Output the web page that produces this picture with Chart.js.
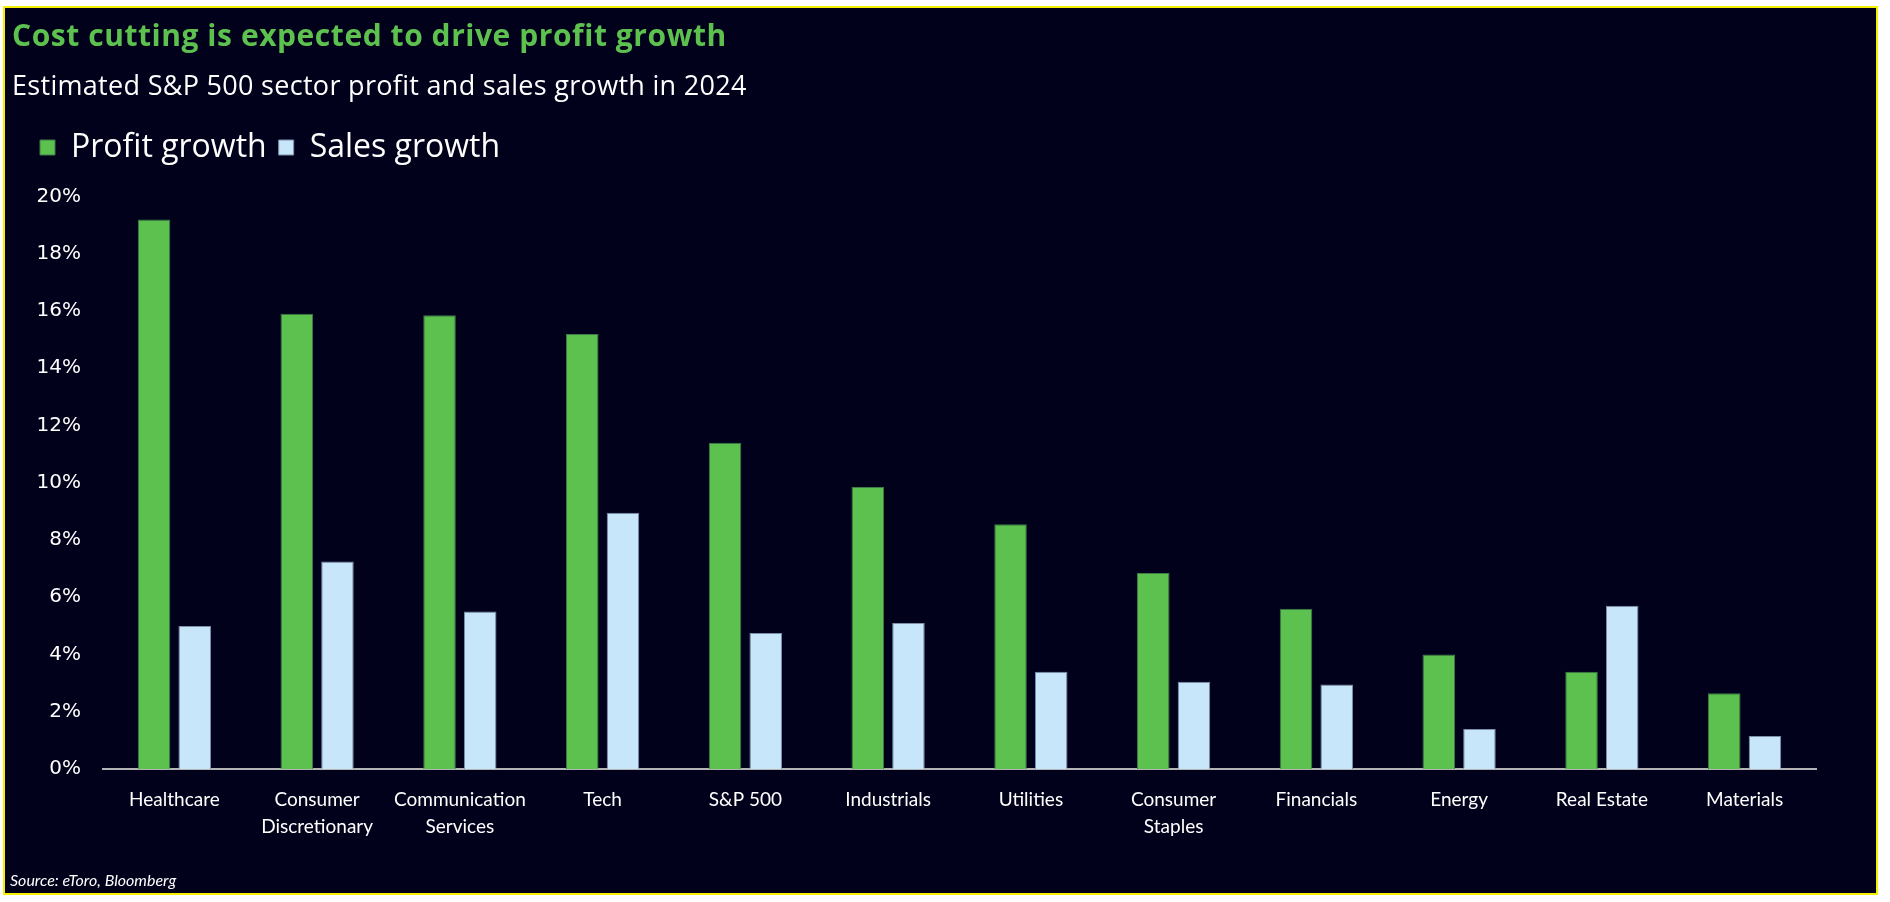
<!DOCTYPE html>
<html>
<head>
<meta charset="utf-8">
<script src="https://cdn.jsdelivr.net/npm/chart.js@4.4.1/dist/chart.umd.min.js"></script>
<style>
  html, body { margin: 0; padding: 0; background: #ffffff; }
  body { width: 1890px; height: 902px; position: relative; overflow: hidden; }
  #frame { position: absolute; left: 3px; top: 6px; width: 1871px; height: 885px;
           background: #01011c; border: 2px solid #f5f000; }
  #wrap { position: absolute; left: 0; top: 0; width: 1890px; height: 902px; }
  .txt { position: absolute; white-space: nowrap; font-family: "Open Sans", Lato, sans-serif; }
  #title { left: 12px; top: 20px; font-size: 30px; font-weight: 700; color: #5cc14e; line-height: 1; letter-spacing: 0.55px; }
  #subtitle { left: 12px; top: 71px; font-size: 27px; color: #ffffff; line-height: 1; letter-spacing: 0.3px; }
  #source { left: 10px; top: 872px; font-size: 16px; font-style: italic; color: #ffffff; line-height: 1; font-family: Lato, sans-serif; }
</style>
</head>
<body>
<div id="frame"></div>
<div id="wrap"><canvas id="c" width="1890" height="902"></canvas></div>
<div class="txt" id="title">Cost cutting is expected to drive profit growth</div>
<div class="txt" id="subtitle">Estimated S&amp;P 500 sector profit and sales growth in 2024</div>
<div class="txt" id="source">Source: eToro, Bloomberg</div>
<script>
const categories = ["Healthcare", ["Consumer", "Discretionary"], ["Communication", "Services"], "Tech",
  "S&P 500", "Industrials", "Utilities", ["Consumer", "Staples"], "Financials", "Energy", "Real Estate", "Materials"];
const profitGrowth = [19.2, 15.9, 15.85, 15.2, 11.4, 9.85, 8.55, 6.85, 5.6, 4.0, 3.4, 2.65];
const salesGrowth = [5.0, 7.25, 5.5, 8.95, 4.75, 5.1, 3.4, 3.05, 2.95, 1.4, 5.7, 1.15];
const yTicks = [0, 2, 4, 6, 8, 10, 12, 14, 16, 18, 20];

const legendHeightPlugin = {
  id: 'legendHeight',
  afterInit(chart) {
    const lg = chart.legend;
    if (lg) {
      const f = lg.fit.bind(lg);
      lg.fit = function () { f(); this.height = 77; };
    }
  }
};

new Chart(document.getElementById('c'), {
  type: 'bar',
  data: {
    labels: categories,
    datasets: [
      { label: 'Profit growth', data: profitGrowth, backgroundColor: '#5cc14e', borderColor: '#3f7a4a', borderWidth: 1,
        categoryPercentage: 0.57, barPercentage: 0.8 },
      { label: 'Sales growth', data: salesGrowth, backgroundColor: '#c7e6f9', borderColor: '#7d8fa8', borderWidth: 1,
        categoryPercentage: 0.57, barPercentage: 0.8 }
    ]
  },
  options: {
    responsive: false,
    animation: false,
    layout: { padding: { left: 28, right: 74, top: 119.5, bottom: 0 } },
    plugins: {
      legend: {
        display: true, position: 'top', align: 'start',
        labels: { color: '#ffffff', boxWidth: 15, boxHeight: 15, padding: 12,
                  font: { family: 'Open Sans', size: 32 } }
      },
      tooltip: { enabled: false }
    },
    scales: {
      x: {
        grid: { display: false, drawTicks: false },
        border: { display: true, color: '#b4b4b4', width: 2 },
        ticks: { color: '#ffffff', padding: 17.5, maxRotation: 0, autoSkip: false,
                 font: { family: 'Lato', size: 19, lineHeight: 1.42 } },
        afterFit(s) { s.height = 133; }
      },
      y: {
        min: 0, max: 20,
        grid: { display: false, drawTicks: false },
        border: { display: false },
        afterBuildTicks(s) { s.ticks = yTicks.map(v => ({ value: v })); },
        ticks: { color: '#ffffff', padding: 22, callback: v => v + '%',
                 font: { family: 'DejaVu Sans', size: 20 } },
        afterFit(s) { s.width = 75; }
      }
    }
  },
  plugins: [legendHeightPlugin]
});
</script>
</body>
</html>
